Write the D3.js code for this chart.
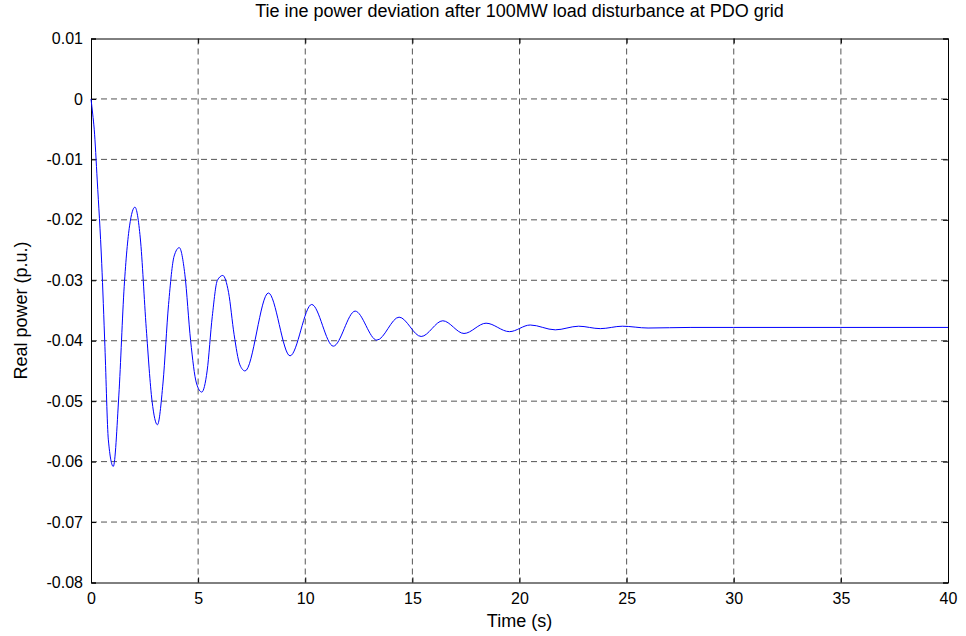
<!DOCTYPE html>
<html>
<head>
<meta charset="utf-8">
<script src="https://cdn.jsdelivr.net/npm/d3@7"></script>
<style>
  body { margin:0; background:#fff; }
  svg text { font-family: "Liberation Sans", Arial, sans-serif; fill:#000; }
</style>
</head>
<body>
<div id="chart"></div>
<script>
// Tie line power deviation â€”
const timeS = [0, 0.08, 0.15, 0.29, 0.5, 0.65, 0.81, 1.04, 1.3, 1.55, 1.8, 2.05, 2.3, 2.58, 2.85, 3.1,
  3.36, 3.62, 3.88, 4.12, 4.38, 4.65, 4.92, 5.17, 5.42, 5.66, 5.9, 6.15, 6.42, 6.68, 6.95, 7.19,
  8.28, 9.29, 10.3, 11.31, 12.33, 13.34, 14.38, 15.41, 16.42, 17.41, 18.44, 19.53, 20.5, 21.67,
  22.76, 23.77, 24.8, 26, 28, 30, 35, 40];
const powerPU = [0, -0.0025, -0.005, -0.0134, -0.0272, -0.041, -0.0564, -0.0608, -0.049, -0.031, -0.021, -0.0179, -0.023, -0.038, -0.050, -0.0539,
  -0.047, -0.034, -0.026, -0.0246, -0.029, -0.040, -0.047, -0.0485, -0.045, -0.036, -0.030, -0.0292, -0.032, -0.039, -0.044, -0.0450,
  -0.0321, -0.0425, -0.0340, -0.0409, -0.0351, -0.0399, -0.0361, -0.0393, -0.0367, -0.0388, -0.0371, -0.0385, -0.0374, -0.0382,
  -0.0376, -0.0380, -0.0376, -0.0379, -0.0378, -0.0378, -0.0378, -0.0378];
const xTicks = [0, 5, 10, 15, 20, 25, 30, 35, 40];
const yTicks = [0.01, 0, -0.01, -0.02, -0.03, -0.04, -0.05, -0.06, -0.07, -0.08];

const width = 966, height = 636;
const margin = {top:38.5, right:18, bottom:53.5, left:91};
const innerW = width - margin.left - margin.right;
const innerH = height - margin.top - margin.bottom;

const svg = d3.select('#chart').append('svg')
  .attr('width', width).attr('height', height);
const g = svg.append('g').attr('transform', `translate(${margin.left},${margin.top})`);

const x = d3.scaleLinear().domain([0, 40]).range([0, innerW]);
const y = d3.scaleLinear().domain([-0.08, 0.01]).range([innerH, 0]);

// grid
g.append('g').selectAll('line').data(xTicks.slice(1, -1)).enter().append('line')
  .attr('x1', d => x(d)).attr('x2', d => x(d)).attr('y1', 0).attr('y2', innerH)
  .attr('stroke', '#555').attr('stroke-dasharray', '6,4');
g.append('g').selectAll('line').data(yTicks.slice(1, -1)).enter().append('line')
  .attr('y1', d => y(d)).attr('y2', d => y(d)).attr('x1', 0).attr('x2', innerW)
  .attr('stroke', '#555').attr('stroke-dasharray', '6,4');

// axes
const fmt = d => d === 0 ? '0' : String(+d.toFixed(2));
g.append('g').attr('transform', `translate(0,${innerH})`)
  .call(d3.axisBottom(x).tickValues(xTicks).tickSize(-5).tickPadding(10).tickFormat(fmt));
g.append('g')
  .call(d3.axisLeft(y).tickValues(yTicks).tickSize(-5).tickPadding(8).tickFormat(fmt));
g.append('g')
  .call(d3.axisTop(x).tickValues(xTicks).tickSize(-5).tickFormat(''));
g.append('g').attr('transform', `translate(${innerW},0)`)
  .call(d3.axisRight(y).tickValues(yTicks).tickSize(-5).tickFormat(''));
g.selectAll('.domain').attr('stroke', '#000');
g.selectAll('.tick line').attr('stroke', '#000');
g.selectAll('.tick text').attr('font-size', '16px').attr('font-family', '"Liberation Sans", Arial, sans-serif');

// line
const line = d3.line().x((d, i) => x(timeS[i])).y(d => y(d)).curve(d3.curveMonotoneX);
g.append('path').datum(powerPU)
  .attr('d', line).attr('fill', 'none').attr('stroke', '#0000ff').attr('stroke-width', 1);

// labels
svg.append('text').attr('x', margin.left + innerW/2).attr('y', 17)
  .attr('text-anchor', 'middle').attr('font-size', '18px')
  .text('Tie ine power deviation after 100MW load disturbance at PDO grid');
svg.append('text').attr('x', margin.left + innerW/2).attr('y', 627)
  .attr('text-anchor', 'middle').attr('font-size', '18px').text('Time (s)');
svg.append('text').attr('transform', `translate(27,${margin.top + innerH/2}) rotate(-90)`)
  .attr('text-anchor', 'middle').attr('font-size', '18px').text('Real power (p.u.)');
</script>
</body>
</html>
